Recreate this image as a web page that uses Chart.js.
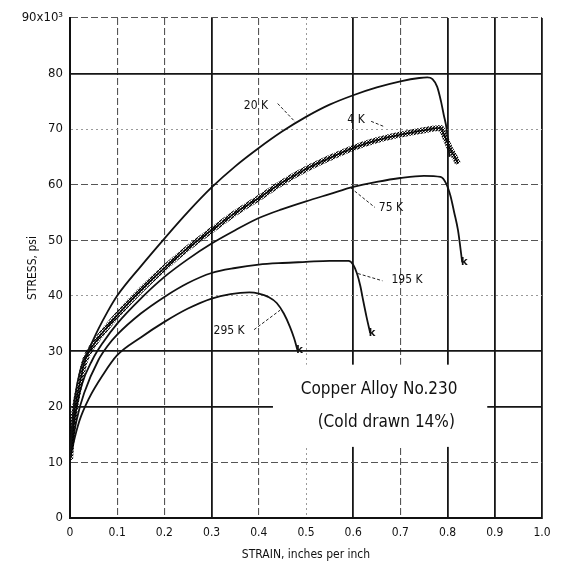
<!DOCTYPE html>
<html>
<head>
<meta charset="utf-8">
<script src="https://cdn.jsdelivr.net/npm/chart.js@4.4.1/dist/chart.umd.min.js"></script>
<style>
  html, body { margin: 0; padding: 0; background: #fff; }
  #wrap { width: 565px; height: 575px; }
</style>
</head>
<body>
<div id="wrap"><canvas id="stressChart" width="565" height="575"></canvas></div>
<script>
// Stress-strain curves - Copper Alloy No.230

const strain4K = [0, 0.004, 0.01, 0.02, 0.032, 0.05, 0.075, 0.1, 0.15, 0.2, 0.25, 0.3, 0.35, 0.4, 0.45, 0.5, 0.55, 0.6, 0.65, 0.7, 0.75, 0.785, 0.795, 0.805, 0.815, 0.822];
const stress4K = [10.5, 15, 19.5, 24, 28.4, 31.2, 34, 36.5, 41, 45, 48.6, 51.8, 54.9, 57.6, 60.4, 62.8, 64.8, 66.6, 68, 69, 69.8, 70.2, 68.5, 66.5, 65, 63.8];

const strain20K = [0, 0.003, 0.008, 0.015, 0.025, 0.038, 0.06, 0.08, 0.1, 0.15, 0.2, 0.25, 0.3, 0.35, 0.4, 0.45, 0.5, 0.55, 0.6, 0.65, 0.7, 0.74, 0.757, 0.768, 0.778, 0.786, 0.792, 0.798, 0.804];
const stress20K = [10.5, 15, 20, 24, 27.5, 30, 34, 37.2, 40, 45.3, 50.3, 55.1, 59.5, 63.3, 66.6, 69.6, 72.2, 74.4, 76.1, 77.5, 78.6, 79.2, 79.3, 79, 77.6, 75, 72.5, 70, 65];

const strain75K = [0, 0.004, 0.012, 0.025, 0.047, 0.07, 0.1, 0.15, 0.2, 0.25, 0.3, 0.35, 0.4, 0.45, 0.5, 0.55, 0.6, 0.65, 0.7, 0.75, 0.785, 0.797, 0.806, 0.814, 0.822, 0.831];
const stress75K = [10.5, 14, 19, 24, 28.4, 31.6, 35, 39.5, 43.4, 46.6, 49.4, 51.8, 54, 55.6, 57, 58.3, 59.6, 60.5, 61.2, 61.6, 61.4, 60.2, 58, 55, 51.8, 46];

const strain195K = [0, 0.005, 0.015, 0.03, 0.06, 0.08, 0.1, 0.15, 0.2, 0.25, 0.3, 0.35, 0.4, 0.45, 0.5, 0.55, 0.59, 0.6, 0.608, 0.615, 0.621, 0.628, 0.636];
const stress195K = [10.5, 13.5, 18, 22.5, 28.4, 31, 33, 36.8, 39.8, 42.3, 44.1, 45, 45.6, 45.9, 46.1, 46.3, 46.3, 45.6, 44, 41.8, 39.2, 36.3, 33.3];

const strain295K = [0, 0.006, 0.02, 0.04, 0.07, 0.1, 0.15, 0.2, 0.25, 0.3, 0.34, 0.38, 0.4, 0.42, 0.438, 0.453, 0.466, 0.475, 0.482];
const stress295K = [10.5, 13, 17.5, 21.5, 25.8, 29.3, 32.5, 35.3, 37.7, 39.5, 40.3, 40.6, 40.4, 39.8, 38.7, 36.8, 34.4, 32.3, 30.2];

const xTickLabels = ['0', '0.1', '0.2', '0.3', '0.4', '0.5', '0.6', '0.7', '0.8', '0.9', '1.0'];
const yTickLabels = ['0', '10', '20', '30', '40', '50', '60', '70', '80', '90x10³'];

const curveNames = ['20 K', '4 K', '75 K', '195 K', '295 K'];
const captionLines = ['Copper Alloy No.230', '(Cold drawn 14%)'];

// where the curve names and their leader lines sit (data units)
const nameAt = [[0.394, 74.2], [0.606, 71.6], [0.68, 55.8], [0.714, 42.8], [0.337, 33.7]];
const leaderFrom = [[0.44, 74.6], [0.638, 71.4], [0.595, 59.4], [0.61, 44.0], [0.39, 33.9]];
const leaderTo = [[0.477, 71.3], [0.667, 70.4], [0.646, 55.9], [0.662, 42.7], [0.445, 37.4]];

function toPoints(xs, ys) {
    return xs.map(function(x, i) { return { x: x, y: ys[i] }; });
}

// grid line look, roughly following the scan: heavy, dashed or faint dotted
const xGridKind = ['solid', 'dash', 'dash', 'solid', 'dash', 'dot', 'solid', 'dash', 'solid', 'solid', 'solid'];
const yGridKind = ['solid', 'dash', 'solid', 'solid', 'dot', 'dash', 'dash', 'dot', 'solid', 'dash'];

function gridLook(kind) {
    if (kind === 'solid') return { color: '#161616', width: 1.8, dash: [] };
    if (kind === 'dash') return { color: '#555', width: 1.1, dash: [7, 3] };
    return { color: '#9a9a9a', width: 1, dash: [2, 3] };
}

// hatch used to give the 4 K curve its serrated look
function sawPattern() {
    const c = document.createElement('canvas');
    c.width = 3; c.height = 3;
    const g = c.getContext('2d');
    g.strokeStyle = '#000';
    g.lineWidth = 1.5;
    g.beginPath();
    g.moveTo(-1, 4); g.lineTo(4, -1);
    g.stroke();
    return g.createPattern(c, 'repeat');
}

const notesPlugin = {
    id: 'curveNotes',
    beforeDatasetsDraw(chart) {
        const { ctx, scales: { x, y } } = chart;
        // white panel behind the caption (it breaks the grid in the scan)
        const l = x.getPixelForValue(0.43), r = x.getPixelForValue(0.884);
        const t = y.getPixelForValue(27.6), b = y.getPixelForValue(12.8);
        ctx.save();
        ctx.fillStyle = '#fff';
        ctx.fillRect(l, t, r - l, b - t);
        ctx.restore();
    },
    afterDatasetsDraw(chart) {
        const { ctx, scales: { x, y } } = chart;
        ctx.save();
        ctx.fillStyle = '#111';
        ctx.strokeStyle = '#222';
        ctx.textAlign = 'center';
        ctx.textBaseline = 'middle';

        ctx.font = '17px "DejaVu Sans Condensed", "Liberation Sans Narrow", "DejaVu Sans"';
        ctx.fillText(captionLines[0], x.getPixelForValue(0.655), y.getPixelForValue(23.1));
        ctx.fillText(captionLines[1], x.getPixelForValue(0.67), y.getPixelForValue(17.1));

        ctx.font = '12px "DejaVu Sans Condensed", "Liberation Sans Narrow", "DejaVu Sans"';
        curveNames.forEach(function(name, i) {
            ctx.fillText(name, x.getPixelForValue(nameAt[i][0]), y.getPixelForValue(nameAt[i][1]));
            ctx.lineWidth = 1;
            ctx.setLineDash([3, 2]);
            ctx.beginPath();
            ctx.moveTo(x.getPixelForValue(leaderFrom[i][0]), y.getPixelForValue(leaderFrom[i][1]));
            ctx.lineTo(x.getPixelForValue(leaderTo[i][0]), y.getPixelForValue(leaderTo[i][1]));
            ctx.stroke();
        });

        // fracture marks at the curve ends
        ctx.setLineDash([]);
        ctx.font = 'bold 10px "DejaVu Sans"';
        [[strain195K, stress195K], [strain295K, stress295K], [strain75K, stress75K]].forEach(function(s) {
            const n = s[0].length - 1;
            ctx.fillText('k', x.getPixelForValue(s[0][n]) + 2, y.getPixelForValue(s[1][n]));
        });
        ctx.restore();
    }
};

const lineBase = {
    borderColor: '#111',
    borderWidth: 1.8,
    pointRadius: 0,
    fill: false,
    cubicInterpolationMode: 'monotone'
};

const ctx = document.getElementById('stressChart').getContext('2d');

new Chart(ctx, {
    type: 'line',
    data: {
        datasets: [
            Object.assign({}, lineBase, { label: '20 K', data: toPoints(strain20K, stress20K) }),
            Object.assign({}, lineBase, { label: '4 K', data: toPoints(strain4K, stress4K), borderColor: sawPattern(), borderWidth: 6 }),
            Object.assign({}, lineBase, { label: '4 K core', data: toPoints(strain4K, stress4K), borderWidth: 1.5 }),
            Object.assign({}, lineBase, { label: '75 K', data: toPoints(strain75K, stress75K) }),
            Object.assign({}, lineBase, { label: '195 K', data: toPoints(strain195K, stress195K) }),
            Object.assign({}, lineBase, { label: '295 K', data: toPoints(strain295K, stress295K) })
        ]
    },
    options: {
        responsive: false,
        animation: false,
        layout: { padding: { top: 18, right: 23, left: 0, bottom: 0 } },
        plugins: {
            legend: { display: false },
            tooltip: { enabled: false }
        },
        scales: {
            x: {
                type: 'linear',
                min: 0,
                max: 1,
                afterFit: function(scale) { scale.height = 57; },
                ticks: {
                    stepSize: 0.1,
                    padding: 8,
                    color: '#111',
                    font: { family: '"DejaVu Sans Condensed", "Liberation Sans Narrow", "DejaVu Sans"', size: 12 },
                    callback: function(value, index) { return xTickLabels[index]; }
                },
                grid: {
                    drawTicks: false,
                    color: function(c) { return gridLook(xGridKind[c.index]).color; },
                    lineWidth: function(c) { return gridLook(xGridKind[c.index]).width; }
                },
                border: {
                    color: '#111',
                    width: 2,
                    dash: function(c) { return c.tick ? gridLook(xGridKind[c.index]).dash : []; }
                },
                title: {
                    display: true,
                    text: 'STRAIN, inches per inch',
                    color: '#111',
                    padding: { top: 0, bottom: 13 },
                    font: { family: '"DejaVu Sans Condensed", "DejaVu Sans"', size: 12 }
                }
            },
            y: {
                min: 0,
                max: 90,
                afterFit: function(scale) { scale.width = 70; },
                ticks: {
                    stepSize: 10,
                    padding: 7,
                    color: '#111',
                    font: { family: '"DejaVu Sans Condensed", "Liberation Sans Narrow", "DejaVu Sans"', size: 13 },
                    callback: function(value, index) { return yTickLabels[index]; }
                },
                grid: {
                    drawTicks: false,
                    color: function(c) { return gridLook(yGridKind[c.index]).color; },
                    lineWidth: function(c) { return gridLook(yGridKind[c.index]).width; }
                },
                border: {
                    color: '#111',
                    width: 2,
                    dash: function(c) { return c.tick ? gridLook(yGridKind[c.index]).dash : []; }
                },
                title: {
                    display: true,
                    text: 'STRESS, psi',
                    color: '#111',
                    padding: { top: 26, bottom: 0 },
                    font: { family: '"DejaVu Sans Condensed", "DejaVu Sans"', size: 12 }
                }
            }
        }
    },
    plugins: [notesPlugin]
});
</script>
</body>
</html>
